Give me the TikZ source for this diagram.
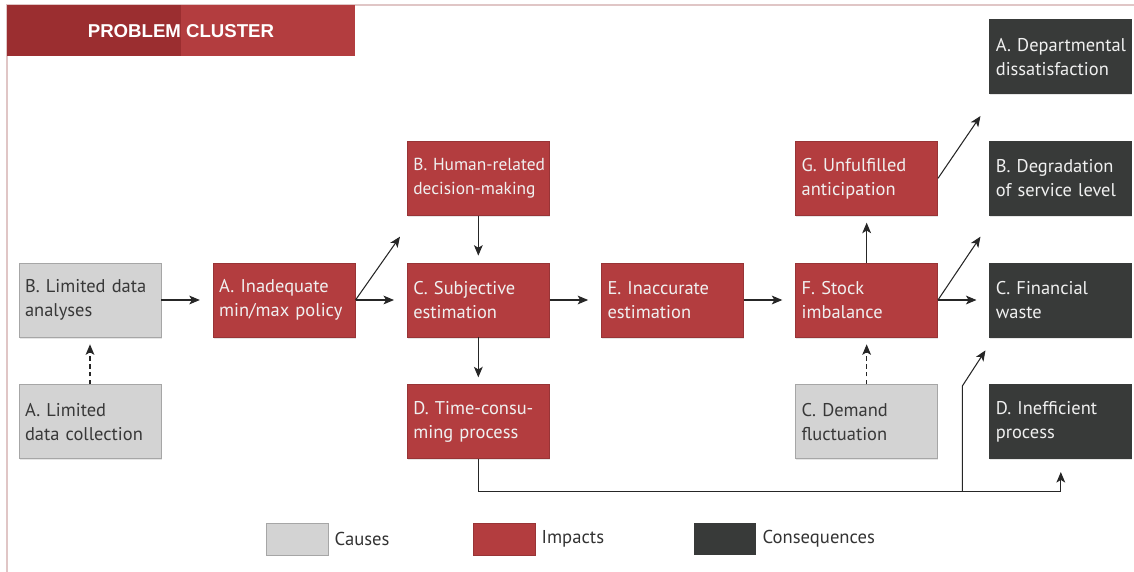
\documentclass[tikz,border=0pt]{standalone}
\usepackage{fontspec}
\setmainfont{PT Sans}
\newfontfamily\headfont{Liberation Sans}
\usepackage{tikz}
\usetikzlibrary{arrows.meta, positioning, shadows, calc}

\definecolor{impred}{HTML}{B33D3F}
\definecolor{headred}{HTML}{9B2E30}
\definecolor{consdark}{HTML}{383A39}
\definecolor{causegray}{HTML}{D3D3D3}
\definecolor{framepink}{HTML}{E0C6C6}

\begin{document}
\begin{tikzpicture}[
  x=0.02cm, y=-0.02cm,
  box/.style={rectangle, align=left, text width=2.6cm, inner xsep=0.12cm, inner ysep=0pt,
              minimum width=2.84cm, minimum height=1.48cm,
              font=\fontsize{10.5}{13.7}\selectfont,
              drop shadow={shadow xshift=0.3pt, shadow yshift=-1pt, opacity=0.2}},
  cause/.style={box, fill=causegray, draw=gray!70, text=black!78},
  impact/.style={box, fill=impred, draw=impred!85!black, text=white!94!black},
  conseq/.style={box, fill=consdark, draw=consdark, text=white!94!black},
  arr/.style={-{Stealth[length=6pt, width=5pt, inset=1.5pt]}, line width=0.6pt, black!85},
  harr/.style={arr, shorten >=0.26cm},
  varr/.style={arr, shorten >=0.14cm},
  dasharr/.style={varr, dash pattern=on 2.5pt off 2pt},
  key/.style={minimum width=1.24cm, minimum height=0.64cm, inner sep=0pt},
  keytxt/.style={font=\fontsize{10.6}{12}\selectfont, text=black!80, inner sep=0pt},
]
  \useasboundingbox (0,0) rectangle (1134,572);

  % frame and header
  \draw[framepink, line width=1pt] (1134,5) -- (7,5) -- (7,572);
  \fill[headred] (7,5) rectangle (181,56);
  \fill[impred]  (181,5) rectangle (355,56);
  \node[font=\headfont\bfseries\fontsize{10.6}{12}\selectfont, text=white] (title) at (181,31) {PROBLEM CLUSTER};

  % causes and impacts
  \node[cause] (anal) at (90,300) {B. Limited data\\analyses};
  \node[cause, below=0.94cm of anal]    (coll)   {A. Limited\\data collection};
  \node[impact, right=1.03cm of anal]   (policy) {A. Inadequate\\min/max policy};
  \node[impact, right=1.03cm of policy] (subj)   {C. Subjective\\estimation};
  \node[impact, above=0.94cm of subj, font=\fontsize{9.9}{13.7}\selectfont, inner xsep=0.1cm]
        (human) {\mbox{B. Human-related}\\\mbox{decision-making}};
  \node[impact, below=0.94cm of subj]   (time)   {D. Time-consu-\\ming process};
  \node[impact, right=1.03cm of subj]   (inacc)  {E. Inaccurate\\estimation};
  \node[impact, right=1.03cm of inacc]  (stock)  {F. Stock\\imbalance};
  \node[impact, above=0.94cm of stock]  (antic)  {G. Unfulfilled\\anticipation};
  \node[cause, below=0.94cm of stock]   (demand) {C. Demand\\fluctuation};

  % consequences
  \node[conseq, right=1.03cm of stock]   (waste)   {C. Financial\\waste};
  \node[conseq, above=0.94cm of waste]   (service) {B. Degradation\\of service level};
  \node[conseq, above=0.94cm of service] (dept)    {\mbox{A. Departmental}\\dissatisfaction};
  \node[conseq, below=0.94cm of waste]   (ineff)   {D. Inefficient\\process};

  % free arrow ends
  \coordinate (humtip)   at ($(human.south west)+(-7,21)$);
  \coordinate (servtip)  at ($(service.south west)+(-9,21)$);
  \coordinate (depttip)  at ($(dept.south west)+(-9,22)$);
  \coordinate (wastetip) at ($(waste.south west)+(-4,13)$);
  \coordinate (split)    at ($(time.south)+(484,32)$);

  \draw[harr]    (anal) -- (policy);
  \draw[dasharr] (coll) -- (anal);
  \draw[harr]    (policy) -- (subj);
  \draw[arr]     (policy.east) -- (humtip);
  \draw[varr]    (human) -- (subj);
  \draw[varr]    (subj) -- (time);
  \draw[harr]    (subj) -- (inacc);
  \draw[harr]    (inacc) -- (stock);
  \draw[varr]    (stock) -- (antic);
  \draw[dasharr] (demand) -- (stock);
  \draw[harr]    (stock) -- (waste);
  \draw[arr]     (stock.east) -- (servtip);
  \draw[arr]     (antic.east) -- (depttip);
  \draw[harr]    (time.south) -- ++(0,32) -| (ineff.south);
  \draw[arr]     (split) -- ++(0,-105) -- (wastetip);

  % legend
  \node[key, fill=causegray, draw=gray!70] (kcause) at (297,539) {};
  \node[keytxt, right=0.12cm of kcause] (lcause) {Causes};
  \node[key, fill=impred, draw=impred!85!black] (kimpact) at (504,539) {};
  \node[keytxt, right=0.12cm of kimpact] (limpact) {Impacts};
  \node[key, fill=consdark] (kconseq) at (725,539) {};
  \node[keytxt, right=0.12cm of kconseq] (lconseq) {Consequences};
\end{tikzpicture}
\end{document}
